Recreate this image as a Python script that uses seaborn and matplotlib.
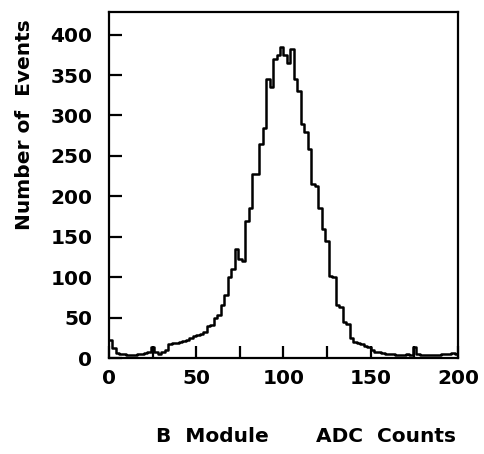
import numpy as np
import pandas as pd
import matplotlib
matplotlib.use("Agg")
import matplotlib.pyplot as plt
from matplotlib.ticker import MultipleLocator
import seaborn as sns

# Histogram: 2-count-wide bins from 0 to 200 (left edges)
bin_left = list(range(0, 200, 2))
counts = [
    22, 12, 6, 5, 5, 4, 4, 4, 5, 5,          # 0-18
    6, 8, 14, 8, 5, 7, 10, 17, 18, 19,       # 20-38
    20, 21, 22, 25, 27, 29, 30, 32, 40, 41,  # 40-58
    50, 53, 66, 78, 100, 110, 135, 122, 120, 170,  # 60-78
    185, 228, 228, 265, 285, 345, 335, 370, 375, 385,  # 80-98
    375, 365, 382, 345, 330, 290, 280, 258, 215, 213,  # 100-118
    185, 160, 145, 102, 100, 66, 63, 45, 42, 25,  # 120-138
    20, 18, 17, 15, 13, 10, 8, 7, 6, 5,      # 140-158
    5, 5, 4, 4, 4, 5, 4, 14, 5, 4,           # 160-178
    4, 4, 4, 4, 4, 5, 5, 5, 6, 5,            # 180-198
]
x_ticks = [0, 50, 100, 150, 200]
y_ticks = [0, 50, 100, 150, 200, 250, 300, 350, 400]

df = pd.DataFrame({"adc": [b + 1 for b in bin_left], "n": counts})
edges = bin_left + [200]

sns.set_style("white")
plt.rcParams['font.family'] = ['DejaVu Sans']
plt.rcParams['text.color'] = 'black'

fig = plt.figure(figsize=(4.85, 4.54), dpi=100)
ax = fig.add_axes([109/485, 1 - 358/454, (458-109)/485, (358-12)/454])

sns.histplot(data=df, x="adc", weights="n", bins=edges, element="step",
             fill=False, color="black", linewidth=1.8, ax=ax)

ax.set_xlim(0, 200)
ax.set_ylim(0, 428)
ax.set_xticks(x_ticks)
ax.set_yticks(y_ticks)
ax.xaxis.set_minor_locator(MultipleLocator(25))
ax.tick_params(axis="both", which="both", direction="in", length=9, width=1.6,
               colors="black", labelcolor="black", labelsize=14.5,
               bottom=True, left=True, top=False, right=False)
ax.tick_params(axis="x", pad=8)
ax.tick_params(axis="y", pad=12)
for lab in ax.get_xticklabels() + ax.get_yticklabels():
    lab.set_fontweight("bold")
for s in ax.spines.values():
    s.set_visible(True)
    s.set_color("black")
    s.set_linewidth(1.6)

ax.set_xlabel("")
ax.set_ylabel("")
fig.text(25/485, 1 - 125/454, "Number of  Events", rotation=90, ha="center",
         va="center", fontsize=14.5, fontweight="bold", color="black")
fig.text(212/485, 1 - 437/454, "B  Module", ha="center", va="center",
         fontsize=14.5, fontweight="bold", color="black")
fig.text(386/485, 1 - 437/454, "ADC  Counts", ha="center", va="center",
         fontsize=14.5, fontweight="bold", color="black")

fig.savefig("out.png", dpi=100)
